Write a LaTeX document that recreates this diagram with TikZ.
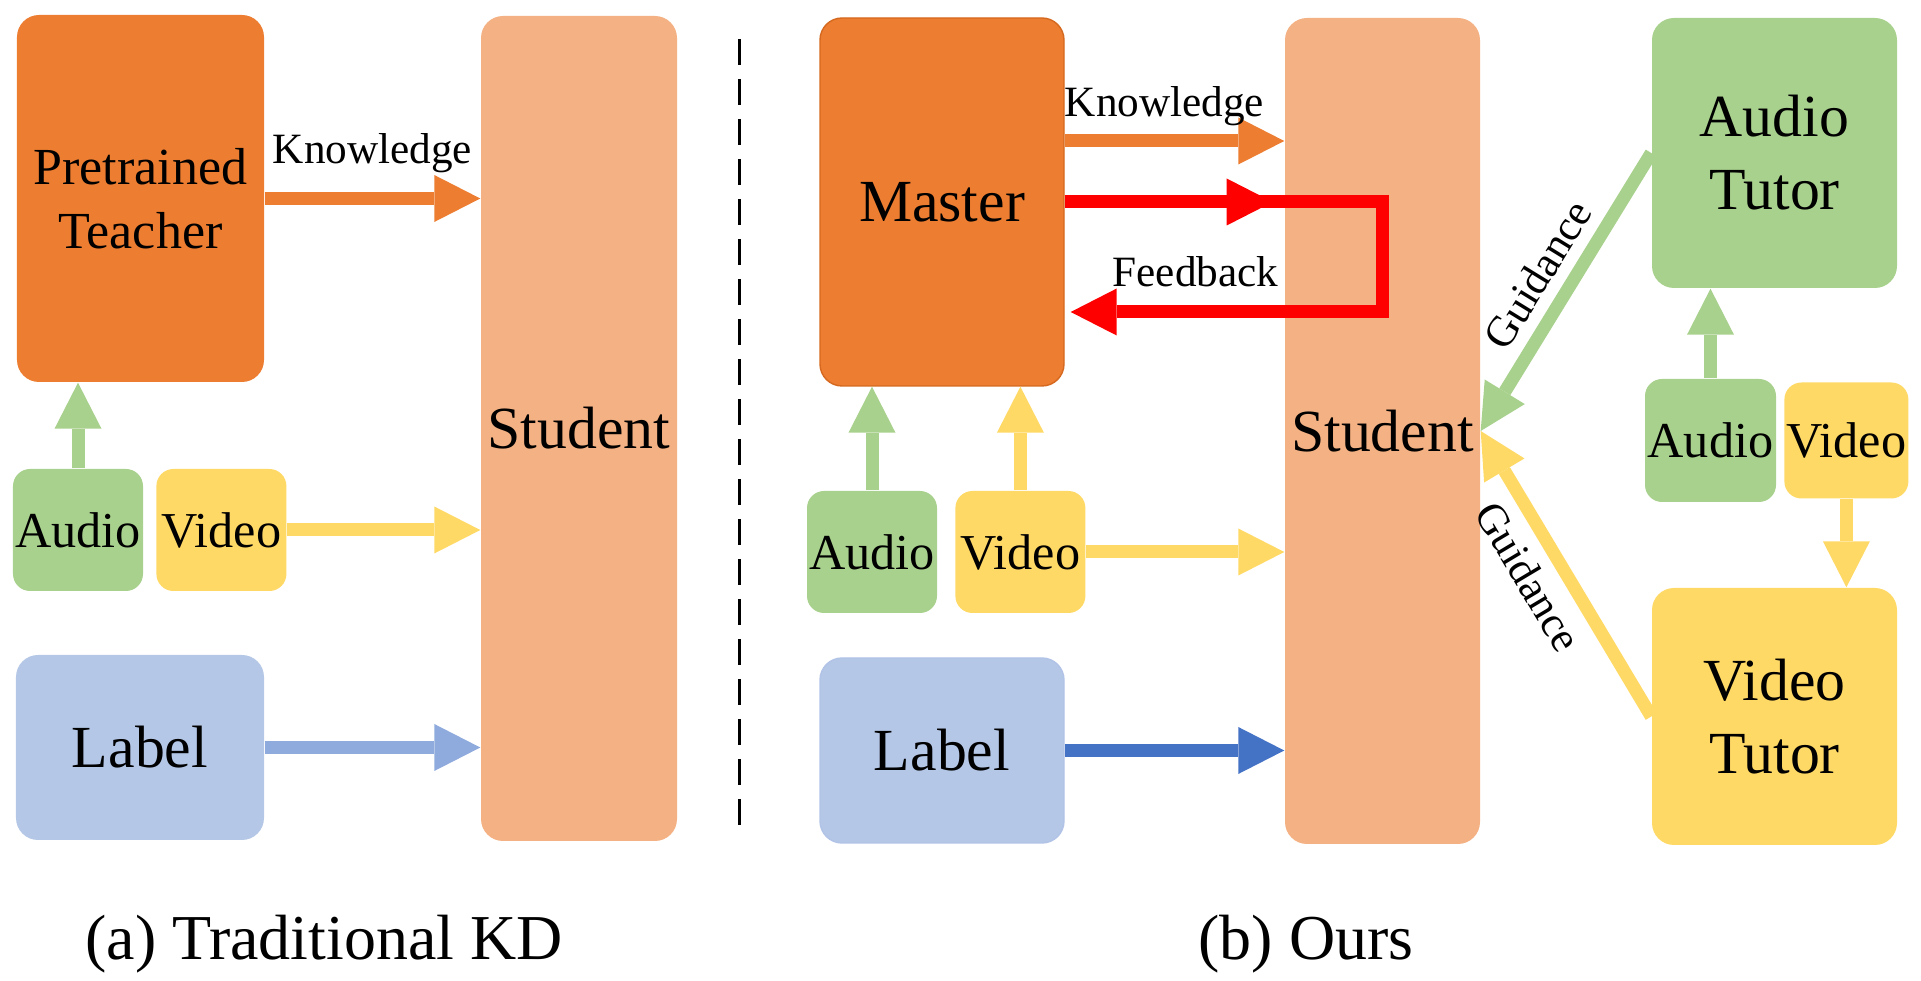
\documentclass[tikz,border=0pt]{standalone}
\usepackage{fontspec}
\setmainfont{Liberation Serif}
\usepackage{tikz}
\usetikzlibrary{arrows.meta, positioning}
\definecolor{cOrange}{HTML}{ED7D31}
\definecolor{cOrangeRim}{HTML}{D5691F}
\definecolor{cPeach}{HTML}{F4B183}
\definecolor{cGreen}{HTML}{A9D18E}
\definecolor{cYellow}{HTML}{FFD966}
\definecolor{cBlue}{HTML}{B4C7E7}
\definecolor{cBlueLight}{HTML}{8FAADC}
\definecolor{cBlueDark}{HTML}{4472C4}
\definecolor{cRed}{HTML}{FF0000}
\tikzset{
	blk/.style    ={rectangle, rounded corners=2.2mm, inner sep=0pt, align=center, text centered},
	modal/.style  ={rectangle, rounded corners=1.7mm, inner sep=0pt, minimum width=1.3cm, minimum height=1.22cm, font=\fontsize{14.3}{17}\selectfont},
	bigtxt/.style ={font=\fontsize{17}{20.8}\selectfont},
	lbl/.style    ={font=\fontsize{12.3}{14}\selectfont, text=black},
	sig/.style    ={-{Triangle[length=4.6mm, width=4.7mm, line width=0pt]}, line width=1.3mm},
}
\begin{document}
\begin{tikzpicture}[font=\fontsize{14.3}{17}\selectfont]
	\useasboundingbox (0,0) rectangle (19.21,9.81);
	\node[blk, fill=cOrange, minimum width=2.47cm, minimum height=3.67cm, font=\fontsize{14.8}{18.2}\selectfont] (t) at (1.405,7.825) {Pretrained\\ Teacher};
	\node[blk, bigtxt, fill=cPeach, minimum width=1.96cm, minimum height=8.25cm] (sa) at (5.79,5.525) {Student};
	\node[modal, fill=cGreen] (aa) at (0.78,4.51) {Audio};
	\node[modal, fill=cYellow, right=0.12cm of aa] (va) {Video};
	\node[blk, bigtxt, fill=cBlue, minimum width=2.48cm, minimum height=1.85cm] (la) at (1.40,2.335) {Label};
	\draw[sig, cOrange] (t.east) -- node[lbl, yshift=4.5mm] {Knowledge} (t.east -| sa.west);
	\draw[sig, cGreen] (aa.north) -- (aa.north |- t.south);
	\draw[sig, cYellow] (va.east) -- (va.east -| sa.west);
	\draw[sig, cBlueLight] (la.east) -- (la.east -| sa.west);
	\node[font=\fontsize{18.2}{20}\selectfont, anchor=base] (capa) at (3.24,0.21) {(a) Traditional KD};
	\draw[line width=0.3mm, dash pattern=on 2.6mm off 1.4mm] (7.39,9.42) -- (7.39,1.45);
	\node[blk, bigtxt, fill=cOrange, draw=cOrangeRim, line width=0.4pt, minimum width=2.44cm, minimum height=3.68cm] (m) at (9.42,7.79) {Master};
	\node[blk, bigtxt, fill=cPeach, minimum width=1.95cm, minimum height=8.26cm] (sb) at (13.825,5.50) {Student};
	\node[modal, fill=cGreen] (ab) at (8.72,4.29) {Audio};
	\node[modal, fill=cYellow, right=0.17cm of ab] (vb) {Video};
	\node[blk, bigtxt, fill=cBlue, draw=cBlueLight!70, line width=0.4pt, minimum width=2.44cm, minimum height=1.85cm] (lb) at (9.42,2.305) {Label};
	\node[blk, bigtxt, fill=cGreen, minimum width=2.45cm, minimum height=2.70cm] (ta) at (17.745,8.28) {Audio\\ Tutor};
	\node[modal, fill=cGreen, minimum width=1.31cm, minimum height=1.23cm] (ac) at (17.105,5.405) {Audio};
	\node[modal, fill=cYellow, minimum width=1.24cm, minimum height=1.16cm, right=0.07cm of ac] (vc) {Video};
	\node[blk, bigtxt, fill=cYellow, minimum width=2.45cm, minimum height=2.57cm] (tv) at (17.745,2.645) {Video\\ Tutor};
	\coordinate (k0) at ([yshift=6.1mm]m.east);
	\coordinate (fm) at ([xshift=20.8mm]m.east);
	\coordinate (f0) at (sb.center |- m.east);
	\coordinate (f1) at ([yshift=-11mm]f0);
	\coordinate (f2) at ([xshift=0.6mm, yshift=-11mm]m.east);
	\draw[sig, cOrange] (k0) -- node[lbl, yshift=3.5mm, xshift=-1mm] {Knowledge} (k0 -| sb.west);
	\draw[sig, cRed] (m.east) -- (fm);
	\draw[sig, cRed, line join=miter] (m.east) -- (f0) -- (f1) -- node[lbl, pos=0.6, yshift=4mm] {Feedback} (f2);
	\draw[sig, cGreen] (ab.north) -- (ab.north |- m.south);
	\draw[sig, cYellow] (vb.north) -- (vb.north |- m.south);
	\draw[sig, cYellow] (vb.east) -- (vb.east -| sb.west);
	\draw[sig, cBlueDark] (lb.east) -- (lb.east -| sb.west);
	\draw[sig, cGreen] (ac.north) -- (ac.north |- ta.south);
	\draw[sig, cYellow] (vc.south) -- (vc.south |- tv.north);
	\draw[sig, cGreen] (ta.west) -- node[lbl, sloped, above] {Guidance} (sb.east);
	\draw[sig, cYellow] (tv.west) -- node[lbl, sloped, below, pos=0.55] {Guidance} (sb.east);
	\node[font=\fontsize{18.2}{20}\selectfont, anchor=base] (capb) at (13.06,0.21) {(b) Ours};
\end{tikzpicture}
\end{document}
